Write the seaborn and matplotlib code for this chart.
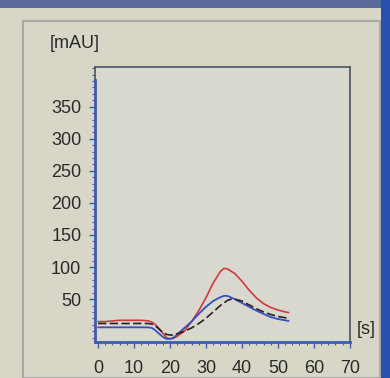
import matplotlib
matplotlib.use("Agg")
import matplotlib.pyplot as plt
import seaborn as sns
from matplotlib.ticker import MultipleLocator, FixedLocator

# time axis [s] and absorbance [mAU]
t_red = [0, 2, 4, 6, 8, 10, 12, 14, 15, 16, 17, 18, 19, 20, 21, 22, 24, 26, 28, 30,
         32, 34, 35, 36, 38, 40, 42, 44, 46, 48, 50, 52, 53]
red = [15, 15, 16, 17, 17, 17, 17, 16, 14, 10, 4, -3, -10, -12, -11, -8, 0, 15, 32, 52,
       75, 93, 98, 97, 90, 78, 64, 52, 43, 37, 33, 30, 29]

t_blue = [0, 5, 10, 14, 15, 16, 17, 18, 19, 20, 21, 22, 24, 26, 28, 30, 32, 34, 35, 36,
          38, 40, 42, 44, 46, 48, 50, 52, 53]
blue = [6, 6, 6, 6, 5, 1, -4, -9, -12, -12, -10, -5, 5, 15, 27, 38, 47, 53, 55, 55,
        50, 44, 38, 32, 27, 22, 19, 17, 16]

t_dark = [0, 5, 10, 14, 15, 16, 17, 18, 19, 20, 21, 22, 24, 26, 28, 30, 32, 34, 36, 37,
          38, 40, 42, 44, 46, 48, 50, 52, 53]
dark = [12, 12, 12, 12, 11, 8, 3, -2, -5, -6, -6, -4, 0, 5, 12, 20, 30, 40, 48, 50,
        50, 47, 41, 35, 30, 26, 23, 21, 20]

y_ticks = [50, 100, 150, 200, 250, 300, 350]
x_ticks = [0, 10, 20, 30, 40, 50, 60, 70]

sns.set_style("white")
plt.rcParams['font.family'] = ['Liberation Sans', 'DejaVu Sans']

bg = "#d8d6c6"
txt = "#2a2a2a"
axis_blue = "#3a5fa8"
fig = plt.figure(figsize=(3.9, 3.78), dpi=100, facecolor=bg)
ax = fig.add_axes([0.244, 0.095, 0.653, 0.728], facecolor="#d8d8ce")

sns.lineplot(x=t_red, y=red, ax=ax, color="#d23a3a", linewidth=1.2)
sns.lineplot(x=t_blue, y=blue, ax=ax, color="#3550c0", linewidth=1.3)
sns.lineplot(x=t_dark, y=dark, ax=ax, color="#2a1e2a", linewidth=1.2, linestyle=(0, (5, 2)))

ax.set_xlim(-0.8, 70)
ax.set_ylim(-17, 412)

ax.yaxis.set_major_locator(FixedLocator(y_ticks))
ax.yaxis.set_minor_locator(MultipleLocator(10))
ax.xaxis.set_major_locator(FixedLocator(x_ticks))
ax.xaxis.set_minor_locator(MultipleLocator(2))

ax.tick_params(axis="y", which="major", direction="out", length=4, width=1,
               color=axis_blue, labelsize=13, labelcolor=txt, pad=6, left=True)
ax.tick_params(axis="y", which="minor", direction="out", length=2, width=0.8,
               color=axis_blue, left=True)
ax.tick_params(axis="x", which="major", direction="out", length=4, width=1,
               color=axis_blue, labelsize=13, labelcolor=txt, pad=9, bottom=True)
ax.tick_params(axis="x", which="minor", direction="out", length=2, width=0.8,
               color=axis_blue, bottom=True)

for side in ["left", "bottom"]:
    ax.spines[side].set_color(axis_blue)
    ax.spines[side].set_linewidth(2)
ax.spines["left"].set_bounds(-17, 392)
for side in ["top", "right"]:
    ax.spines[side].set_color("#4a5560")
    ax.spines[side].set_linewidth(1.2)
# grey part of the frame above the blue axis line
ax.plot([-0.8, -0.8], [392, 412], color="#4a5560", linewidth=1.2, clip_on=False)

fig.text(0.128, 0.886, "[mAU]", fontsize=13, color=txt, va="center")
fig.text(0.915, 0.128, "[s]", fontsize=13, color=txt, va="center")

# panel frame of the screen window
fig.patches.append(plt.Rectangle((0.06, 0.0), 0.915, 0.945, transform=fig.transFigure,
                                 fill=False, edgecolor="#a8a8a4", linewidth=1.5))
fig.patches.append(plt.Rectangle((0.0, 0.978), 1.0, 0.022, transform=fig.transFigure,
                                 color="#5a6a9a", linewidth=0))
fig.patches.append(plt.Rectangle((0.978, 0.0), 0.022, 1.0, transform=fig.transFigure,
                                 color="#2850b0", linewidth=0))

fig.savefig("out.png", dpi=100, facecolor=bg)
